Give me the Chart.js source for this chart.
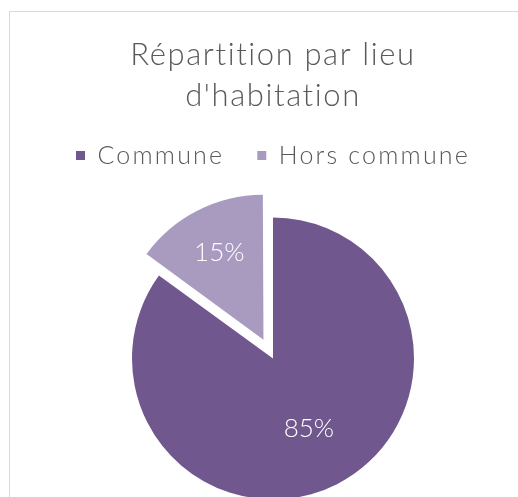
<!DOCTYPE html>
<html>
<head>
<meta charset="utf-8">
<script src="https://cdn.jsdelivr.net/npm/chart.js@4.4.1/dist/chart.umd.min.js"></script>
<style>
  html, body { margin: 0; padding: 0; background: #fff; overflow: hidden; }
  body { width: 518px; height: 497px; position: relative; }
  #frame {
    position: absolute; left: 9px; top: 11px; width: 520px; height: 500px;
    border-left: 1px solid #d9d9d9; border-top: 1px solid #d9d9d9;
  }
  #wrap { position: absolute; left: 10px; top: 12px; width: 512px; height: 527px; }
</style>
</head>
<body>
<div id="frame"></div>
<div id="wrap"><canvas id="chart"></canvas></div>
<script>
const titleLines = ["Répartition par lieu", "d'habitation"];
const categories = ["Commune", "Hors commune"];
const shares = [85, 15];
const sliceColors = ["#70588f", "#a99bc0"];

const FONT = "Lato, 'Noto Sans', sans-serif";
const TEXT = "#595959";

// where the % label sits along each slice's radius
const labelRadius = [0.56, 0.69];

// the original font is much wider than Lato, so open up the letters a bit
const wideText = {
  id: "wideText",
  afterInit(chart) {
    const widen = (box, px) => {
      ["fit", "draw"].forEach(m => {
        if (!box || typeof box[m] !== "function") return;
        const orig = box[m].bind(box);
        box[m] = function (...args) {
          const ctx = chart.ctx;
          const prev = ctx.letterSpacing;
          ctx.letterSpacing = px;
          const res = orig(...args);
          ctx.letterSpacing = prev;
          return res;
        };
      });
    };
    widen(chart.titleBlock, "1.6px");
    widen(chart.legend, "2.2px");
  }
};

const pctLabels = {
  id: "pctLabels",
  afterDatasetsDraw(chart) {
    const ctx = chart.ctx;
    const meta = chart.getDatasetMeta(0);
    ctx.save();
    ctx.fillStyle = "#ffffff";
    ctx.font = "300 26px " + FONT;
    ctx.textAlign = "center";
    ctx.textBaseline = "middle";
    meta.data.forEach((arc, i) => {
      const p = arc.getProps(["x", "y", "startAngle", "endAngle", "outerRadius"], true);
      const mid = (p.startAngle + p.endAngle) / 2;
      const shift = (arc.options.offset || 0) / 4;
      const r = shift + p.outerRadius * labelRadius[i];
      ctx.fillText(shares[i] + "%", p.x + Math.cos(mid) * r, p.y + Math.sin(mid) * r);
    });
    ctx.restore();
  }
};

new Chart(document.getElementById("chart"), {
  type: "pie",
  data: {
    labels: categories,
    datasets: [{
      data: shares,
      backgroundColor: sliceColors,
      borderWidth: 0,
      offset: [0, 84]
    }]
  },
  options: {
    responsive: true,
    maintainAspectRatio: false,
    animation: false,
    radius: 141,
    layout: { padding: { left: 14 } },
    plugins: {
      title: {
        display: true,
        text: titleLines,
        color: TEXT,
        font: { family: FONT, size: 31, weight: 300, lineHeight: "41px" },
        padding: { top: 22, bottom: -6 }
      },
      legend: {
        display: true,
        position: "top",
        labels: {
          color: TEXT,
          font: { family: FONT, size: 25, weight: 300 },
          boxWidth: 9,
          boxHeight: 9,
          padding: 33
        }
      },
      tooltip: { enabled: false }
    }
  },
  plugins: [wideText, pctLabels]
});
</script>
</body>
</html>
